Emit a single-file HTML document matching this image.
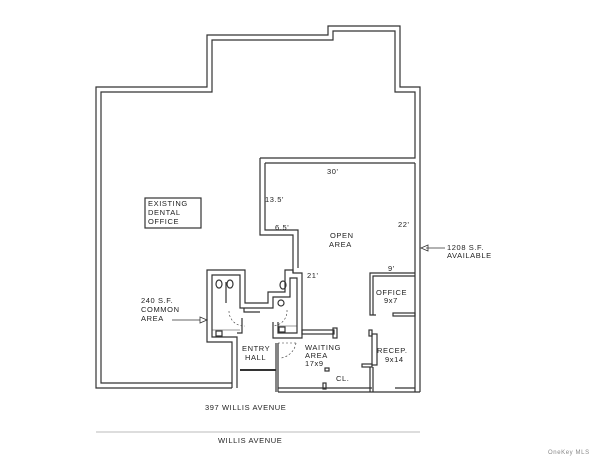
<!DOCTYPE html>
<html><head><style>
body{margin:0;background:#fff}
svg{display:block}
text{font-family:"Liberation Sans",sans-serif;font-size:7.5px;fill:#222;letter-spacing:0.6px}
</style></head><body>
<svg width="600" height="463" viewBox="0 0 600 463" xmlns="http://www.w3.org/2000/svg">
<g fill="none" stroke="#333" stroke-width="1.2">
<polyline points="232,388 96,388 96,87 207,87 207,35 328,35 328,26 400,26 400,87 420,87 420,392"/>
<polyline points="232,383 101,383 101,92 212,92 212,40 333,40 333,31 395,31 395,92 415,92 415,158 260,158"/>
<polyline points="260,158 260,235 293,235 293,273"/>
<polyline points="265,163 265,230 298,230 298,268"/>
<line x1="415" y1="163" x2="415" y2="392"/>
<line x1="265" y1="163" x2="415" y2="163"/>
<polyline points="232,388 232,342 207,342 207,270 245,270 245,303 268,303 268,292 285,292 285,270 293,270 293,273 302,273 302,338 273,338 273,322"/>
<polyline points="237,388 237,337 212,337 212,275 240,275 240,308 273,308 273,297 290,297 290,278 297,278 297,333 278,333 278,322"/>
<polyline points="242,318 242,333 237,333"/>
<polyline points="244,308 244,312 260,312"/>
<line x1="212" y1="330" x2="240" y2="330" stroke-width="0.6"/>
<line x1="278" y1="326" x2="297" y2="326" stroke-width="0.6"/>
<ellipse cx="219" cy="284" rx="3" ry="4"/><ellipse cx="230" cy="284" rx="3" ry="4"/>
<ellipse cx="283" cy="285" rx="3" ry="4"/><ellipse cx="281" cy="303" rx="3" ry="3"/>
<rect x="216" y="331" width="6" height="5"/><rect x="279" y="327" width="6" height="5"/>
<line x1="226" y1="282" x2="226" y2="303"/>
<path d="M229 311 A15 15 0 0 0 245 326" stroke-dasharray="2,2" stroke-width="0.6"/>
<path d="M287 310 A15 15 0 0 1 273 326" stroke-dasharray="2,2" stroke-width="0.6"/>
<line x1="278" y1="343" x2="278" y2="392"/><line x1="276" y1="343" x2="276" y2="392"/>
<line x1="240" y1="370" x2="276" y2="370" stroke-width="2"/>
<path d="M278 343 L296 343 M296 343 A18 18 0 0 1 281 358" stroke-dasharray="2,2" stroke-width="0.6"/>
<rect x="302" y="330" width="32" height="4"/>
<rect x="333" y="328" width="4" height="10"/>
<line x1="278" y1="392" x2="420" y2="392"/>
<line x1="278" y1="388" x2="372" y2="388"/>
<rect x="325" y="368" width="4" height="3"/><rect x="323" y="383" width="3" height="6"/>
<polyline points="376,315 370,315 370,273 415,273"/>
<polyline points="373,315 373,276 415,276"/>
<rect x="393" y="313" width="22" height="3"/>
<rect x="369" y="330" width="3" height="6"/>
<rect x="372" y="334" width="5" height="31"/>
<rect x="362" y="364" width="10" height="3"/>
<line x1="370" y1="367" x2="370" y2="392"/><line x1="373" y1="367" x2="373" y2="392"/>
<line x1="395" y1="388" x2="415" y2="388"/>
<rect x="145" y="198" width="56" height="30"/>
<line x1="172" y1="320" x2="200" y2="320" stroke-width="0.8"/>
<path d="M200 317 L207 320 L200 323 Z" stroke-width="0.8"/>
<line x1="426" y1="248" x2="445" y2="248" stroke-width="0.8"/>
<path d="M428 245 L421 248 L428 251 Z" stroke-width="0.8"/>
</g>
<line x1="96" y1="432" x2="420" y2="432" stroke="#bbb" stroke-width="1"/>
<text x="148" y="206">EXISTING</text>
<text x="148" y="215">DENTAL</text>
<text x="148" y="224">OFFICE</text>
<text x="327" y="174">30'</text>
<text x="265" y="202">13.5'</text>
<text x="275" y="230">6.5'</text>
<text x="398" y="227">22'</text>
<text x="330" y="238">OPEN</text>
<text x="329" y="247">AREA</text>
<text x="307" y="278">21'</text>
<text x="388" y="271">9'</text>
<text x="447" y="250">1208 S.F.</text>
<text x="447" y="258">AVAILABLE</text>
<text x="376" y="295">OFFICE</text>
<text x="384" y="303">9x7</text>
<text x="377" y="353">RECEP.</text>
<text x="385" y="362">9x14</text>
<text x="141" y="303">240 S.F.</text>
<text x="141" y="312">COMMON</text>
<text x="141" y="321">AREA</text>
<text x="242" y="351">ENTRY</text>
<text x="245" y="360">HALL</text>
<text x="305" y="350">WAITING</text>
<text x="305" y="358">AREA</text>
<text x="305" y="366">17x9</text>
<text x="336" y="381">CL.</text>
<text x="205" y="410">397 WILLIS AVENUE</text>
<text x="218" y="443">WILLIS AVENUE</text>
<text x="548" y="454" style="font-size:6px;fill:#888">OneKey MLS</text>
</svg>
</body></html>
